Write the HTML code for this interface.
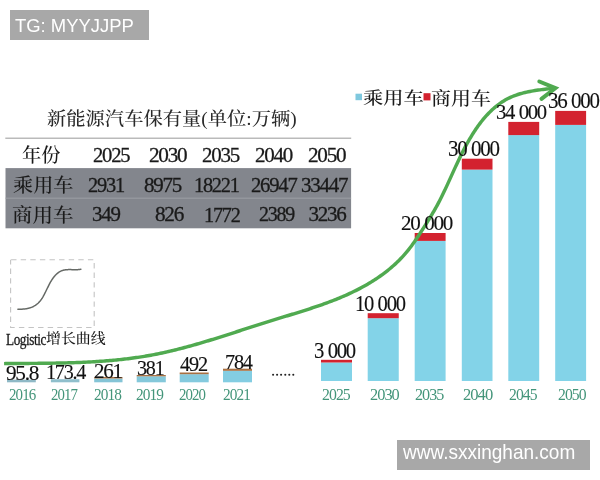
<!DOCTYPE html>
<html><head><meta charset="utf-8"><style>
html,body{margin:0;padding:0;background:#fff;}
#c{position:relative;width:600px;height:480px;overflow:hidden;background:#fff;}
.t{position:absolute;white-space:nowrap;line-height:1;transform-origin:0 0;}
.box{position:absolute;background:#a8a8a8;}
</style></head><body><div id="c">
<div class="box" style="left:10px;top:10px;width:139px;height:30px"></div>
<div class="box" style="left:397px;top:440px;width:193px;height:30px"></div>
<svg width="600" height="480" viewBox="0 0 600 480" style="position:absolute;left:0;top:0"><rect x="5.3" y="137.6" width="345.90" height="1.20" fill="#aaaaaa" /><rect x="5.5" y="168.1" width="345.60" height="60.20" fill="#83868d" /><rect x="5.5" y="197.7" width="345.60" height="0.90" fill="#a0a3a8" /><rect x="10.6" y="259.7" width="83.6" height="67.8" fill="none" stroke="#c4c4c4" stroke-width="1.1" stroke-dasharray="5.4,4.2" stroke-dashoffset="-0.5"/><path d="M17.90,309.30 L18.44,309.29 L18.98,309.29 L19.52,309.27 L20.06,309.26 L20.61,309.24 L21.16,309.22 L21.71,309.19 L22.26,309.16 L22.81,309.12 L23.36,309.07 L23.91,309.02 L24.46,308.97 L25.00,308.90 L25.55,308.83 L26.10,308.74 L26.64,308.65 L27.18,308.55 L27.72,308.44 L28.26,308.32 L28.79,308.19 L29.32,308.05 L29.85,307.90 L30.37,307.73 L30.89,307.55 L31.40,307.36 L31.91,307.16 L32.41,306.94 L32.91,306.71 L33.40,306.46 L33.88,306.20 L34.36,305.93 L34.83,305.64 L35.30,305.34 L35.75,305.03 L36.20,304.71 L36.64,304.37 L37.07,304.03 L37.49,303.67 L37.91,303.31 L38.31,302.93 L38.70,302.54 L39.09,302.15 L39.46,301.74 L39.82,301.33 L40.17,300.91 L40.52,300.48 L40.85,300.05 L41.17,299.61 L41.49,299.16 L41.79,298.71 L42.09,298.25 L42.39,297.78 L42.67,297.31 L42.95,296.84 L43.22,296.36 L43.49,295.88 L43.76,295.40 L44.02,294.92 L44.27,294.43 L44.53,293.94 L44.77,293.45 L45.02,292.96 L45.27,292.47 L45.51,291.98 L45.75,291.48 L45.99,290.99 L46.23,290.50 L46.47,290.01 L46.71,289.51 L46.95,289.02 L47.19,288.53 L47.43,288.04 L47.67,287.55 L47.91,287.06 L48.15,286.57 L48.40,286.08 L48.64,285.59 L48.89,285.10 L49.14,284.62 L49.39,284.13 L49.65,283.65 L49.91,283.17 L50.17,282.69 L50.44,282.21 L50.71,281.74 L50.98,281.26 L51.27,280.79 L51.55,280.33 L51.84,279.86 L52.14,279.40 L52.45,278.95 L52.76,278.50 L53.08,278.05 L53.40,277.61 L53.74,277.18 L54.08,276.75 L54.43,276.32 L54.79,275.90 L55.16,275.49 L55.54,275.09 L55.94,274.69 L56.34,274.30 L56.74,273.93 L57.16,273.56 L57.59,273.20 L58.03,272.86 L58.47,272.53 L58.93,272.22 L59.39,271.92 L59.86,271.64 L60.34,271.37 L60.83,271.13 L61.32,270.91 L61.82,270.70 L62.33,270.52 L62.85,270.36 L63.37,270.22 L63.90,270.09 L64.43,269.98 L64.97,269.89 L65.51,269.81 L66.06,269.75 L66.61,269.70 L67.16,269.66 L67.72,269.63 L68.28,269.61 L68.84,269.60 L69.40,269.60 L69.97,269.60 L70.53,269.61 L71.10,269.62 L71.66,269.63 L72.23,269.65 L72.80,269.66 L73.36,269.68 L73.92,269.69 L74.48,269.70 L75.04,269.71 L75.60,269.71 L76.15,269.70 L76.70,269.69 L77.24,269.67 L77.78,269.64 L78.31,269.60 L78.84,269.55 L79.37,269.48 L79.88,269.40 L80.40,269.31 L80.90,269.20" fill="none" stroke="#666a66" stroke-width="1.5" stroke-linecap="round" stroke-linejoin="round"/><rect x="7" y="379.7" width="28.80" height="2.60" fill="#8fb9c6" /><rect x="50.9" y="379.2" width="28.50" height="3.10" fill="#8fbfcc" /><rect x="94.2" y="378.5" width="28.30" height="3.80" fill="#84c4d6" /><rect x="94.2" y="377" width="28.30" height="1.50" fill="#a87042" /><rect x="136.7" y="376.3" width="29.10" height="6.00" fill="#84c8da" /><rect x="136.7" y="375" width="29.10" height="1.30" fill="#a87042" /><rect x="179.7" y="374.2" width="29.00" height="8.10" fill="#84cade" /><rect x="179.7" y="372.5" width="29.00" height="1.70" fill="#a87042" /><rect x="223" y="370.8" width="29.00" height="11.50" fill="#83cde2" /><rect x="223" y="368.7" width="29.00" height="2.10" fill="#a87042" /><rect x="321" y="362.5" width="31.00" height="18.50" fill="#83d3e8" /><rect x="321" y="359.8" width="31.00" height="2.70" fill="#d3222f" /><rect x="367.7" y="318.2" width="31.05" height="62.80" fill="#83d3e8" /><rect x="367.7" y="313.2" width="31.05" height="5.00" fill="#d3222f" /><rect x="414.7" y="240.9" width="30.90" height="140.10" fill="#83d3e8" /><rect x="414.7" y="233" width="30.90" height="7.90" fill="#d3222f" /><rect x="461.8" y="169.6" width="30.70" height="211.40" fill="#83d3e8" /><rect x="461.8" y="158.7" width="30.70" height="10.90" fill="#d3222f" /><rect x="508.3" y="135.1" width="30.90" height="245.90" fill="#83d3e8" /><rect x="508.3" y="121.9" width="30.90" height="13.20" fill="#d3222f" /><rect x="555.2" y="124.9" width="30.90" height="256.10" fill="#83d3e8" /><rect x="555.2" y="110.9" width="30.90" height="14.00" fill="#d3222f" /><circle cx="273.1" cy="374.8" r="1.05" fill="#222"/><circle cx="277.1" cy="374.8" r="1.05" fill="#222"/><circle cx="281.1" cy="374.8" r="1.05" fill="#222"/><circle cx="285.3" cy="374.8" r="1.05" fill="#222"/><circle cx="289.3" cy="374.8" r="1.05" fill="#222"/><circle cx="293.3" cy="374.8" r="1.05" fill="#222"/><rect x="355.5" y="93.7" width="6.50" height="6.50" fill="#7fc8de" /><rect x="423.5" y="93.2" width="7.00" height="7.20" fill="#d3222f" /><path d="M4.08,363.61 L5.70,363.59 L7.33,363.58 L8.96,363.56 L10.59,363.55 L12.22,363.53 L13.85,363.52 L15.49,363.51 L17.12,363.50 L18.76,363.48 L20.40,363.47 L22.04,363.46 L23.68,363.45 L25.33,363.44 L26.97,363.43 L28.62,363.42 L30.26,363.40 L31.91,363.39 L33.56,363.38 L35.21,363.37 L36.86,363.35 L38.52,363.34 L40.17,363.32 L41.82,363.30 L43.48,363.28 L45.14,363.27 L46.79,363.24 L48.45,363.22 L50.11,363.20 L51.77,363.17 L53.43,363.15 L55.09,363.12 L56.75,363.09 L58.41,363.06 L60.07,363.02 L61.73,362.99 L63.39,362.95 L65.05,362.91 L66.72,362.86 L68.38,362.82 L70.04,362.77 L71.71,362.72 L73.37,362.66 L75.03,362.60 L76.70,362.54 L78.36,362.48 L80.02,362.42 L81.69,362.35 L83.35,362.27 L85.01,362.20 L86.67,362.12 L88.34,362.03 L90.00,361.94 L91.66,361.85 L93.32,361.76 L94.98,361.66 L96.64,361.56 L98.30,361.45 L99.96,361.34 L101.62,361.22 L103.28,361.10 L104.94,360.97 L106.59,360.84 L108.25,360.71 L109.90,360.57 L111.56,360.42 L113.21,360.27 L114.86,360.12 L116.51,359.96 L118.16,359.79 L119.81,359.62 L121.46,359.44 L123.11,359.26 L124.75,359.07 L126.40,358.88 L128.04,358.68 L129.68,358.47 L131.32,358.26 L132.96,358.04 L134.60,357.81 L136.24,357.58 L137.87,357.34 L139.50,357.10 L141.13,356.85 L142.76,356.59 L144.39,356.33 L146.02,356.05 L147.64,355.77 L149.27,355.49 L150.89,355.20 L152.51,354.89 L154.12,354.59 L155.74,354.27 L157.35,353.95 L158.96,353.62 L160.57,353.29 L162.18,352.94 L163.79,352.59 L165.39,352.24 L167.00,351.88 L168.60,351.51 L170.20,351.14 L171.80,350.76 L173.40,350.38 L175.00,349.99 L176.59,349.59 L178.19,349.19 L179.78,348.78 L181.37,348.37 L182.96,347.96 L184.55,347.54 L186.14,347.11 L187.73,346.68 L189.32,346.25 L190.90,345.81 L192.49,345.36 L194.07,344.92 L195.65,344.47 L197.24,344.01 L198.82,343.55 L200.40,343.09 L201.98,342.63 L203.56,342.16 L205.14,341.68 L206.72,341.21 L208.30,340.73 L209.88,340.25 L211.45,339.77 L213.03,339.28 L214.61,338.79 L216.18,338.30 L217.76,337.81 L219.34,337.31 L220.91,336.82 L222.49,336.32 L224.06,335.82 L225.64,335.31 L227.22,334.81 L228.79,334.30 L230.37,333.80 L231.94,333.29 L233.52,332.78 L235.10,332.27 L236.67,331.76 L238.25,331.25 L239.83,330.74 L241.41,330.23 L242.98,329.72 L244.56,329.21 L246.14,328.70 L247.72,328.18 L249.30,327.67 L250.88,327.16 L252.46,326.65 L254.04,326.14 L255.63,325.63 L257.21,325.13 L258.80,324.62 L260.38,324.11 L261.97,323.61 L263.55,323.11 L265.14,322.60 L266.73,322.10 L268.32,321.61 L269.91,321.11 L271.50,320.62 L273.10,320.12 L274.69,319.63 L276.29,319.14 L277.88,318.65 L279.48,318.17 L281.07,317.68 L282.67,317.19 L284.27,316.71 L285.86,316.22 L287.46,315.74 L289.06,315.25 L290.65,314.76 L292.25,314.27 L293.84,313.78 L295.44,313.29 L297.03,312.80 L298.62,312.30 L300.22,311.81 L301.81,311.31 L303.39,310.81 L304.98,310.30 L306.57,309.80 L308.15,309.29 L309.73,308.77 L311.31,308.25 L312.89,307.73 L314.47,307.21 L316.04,306.68 L317.61,306.14 L319.18,305.60 L320.74,305.06 L322.30,304.51 L323.86,303.95 L325.42,303.39 L326.97,302.82 L328.52,302.25 L330.07,301.67 L331.61,301.08 L333.15,300.49 L334.69,299.89 L336.22,299.28 L337.74,298.66 L339.27,298.04 L340.78,297.41 L342.30,296.77 L343.81,296.12 L345.31,295.46 L346.81,294.80 L348.30,294.12 L349.79,293.44 L351.28,292.74 L352.76,292.04 L354.23,291.32 L355.70,290.60 L357.16,289.86 L358.61,289.12 L360.06,288.36 L361.51,287.59 L362.95,286.81 L364.38,286.02 L365.80,285.22 L367.22,284.40 L368.63,283.57 L370.03,282.73 L371.43,281.88 L372.82,281.01 L374.20,280.13 L375.58,279.23 L376.95,278.33 L378.31,277.40 L379.66,276.47 L381.00,275.52 L382.34,274.55 L383.67,273.57 L384.99,272.58 L386.29,271.57 L387.59,270.55 L388.88,269.51 L390.15,268.45 L391.42,267.39 L392.67,266.31 L393.91,265.21 L395.13,264.10 L396.35,262.97 L397.54,261.83 L398.73,260.68 L399.90,259.51 L401.05,258.32 L402.19,257.12 L403.31,255.91 L404.41,254.68 L405.49,253.43 L406.56,252.17 L407.61,250.90 L408.64,249.61 L409.65,248.31 L410.65,247.00 L411.64,245.67 L412.61,244.34 L413.57,242.99 L414.51,241.64 L415.45,240.28 L416.38,238.92 L417.30,237.55 L418.22,236.18 L419.13,234.81 L420.03,233.43 L420.93,232.05 L421.82,230.66 L422.71,229.28 L423.60,227.89 L424.48,226.50 L425.36,225.11 L426.24,223.71 L427.11,222.32 L427.98,220.92 L428.85,219.53 L429.72,218.12 L430.58,216.72 L431.43,215.32 L432.28,213.91 L433.12,212.49 L433.95,211.07 L434.77,209.65 L435.59,208.21 L436.39,206.78 L437.18,205.33 L437.96,203.88 L438.73,202.42 L439.49,200.96 L440.24,199.49 L440.99,198.02 L441.72,196.54 L442.45,195.06 L443.17,193.58 L443.89,192.10 L444.60,190.61 L445.30,189.12 L446.00,187.62 L446.70,186.13 L447.39,184.64 L448.08,183.14 L448.76,181.64 L449.44,180.14 L450.13,178.64 L450.81,177.14 L451.49,175.64 L452.17,174.14 L452.85,172.64 L453.53,171.14 L454.21,169.65 L454.90,168.15 L455.58,166.65 L456.27,165.16 L456.97,163.66 L457.67,162.17 L458.37,160.68 L459.08,159.19 L459.79,157.71 L460.51,156.22 L461.24,154.74 L461.98,153.26 L462.72,151.79 L463.47,150.32 L464.23,148.85 L465.00,147.39 L465.78,145.93 L466.57,144.47 L467.37,143.02 L468.18,141.57 L469.01,140.13 L469.85,138.70 L470.70,137.26 L471.56,135.84 L472.44,134.42 L473.33,133.01 L474.24,131.60 L475.16,130.20 L476.10,128.82 L477.06,127.44 L478.02,126.07 L479.01,124.72 L480.01,123.38 L481.03,122.06 L482.06,120.75 L483.11,119.46 L484.18,118.18 L485.27,116.92 L486.37,115.69 L487.49,114.47 L488.63,113.27 L489.78,112.10 L490.96,110.95 L492.15,109.82 L493.36,108.72 L494.59,107.64 L495.84,106.60 L497.11,105.58 L498.40,104.59 L499.71,103.63 L501.05,102.70 L502.40,101.80 L503.77,100.93 L505.16,100.10 L506.57,99.31 L508.01,98.55 L509.46,97.83 L510.94,97.14 L512.44,96.49 L513.96,95.88 L515.50,95.31 L517.05,94.76 L518.62,94.25 L520.21,93.77 L521.81,93.31 L523.42,92.89 L525.04,92.49 L526.67,92.12 L528.31,91.77 L529.96,91.44 L531.61,91.13 L533.26,90.84 L534.92,90.57 L536.58,90.32 L538.24,90.08 L539.90,89.85 L541.56,89.64 L543.21,89.43 L544.86,89.24 L546.51,89.06 L548.14,88.88 L549.77,88.71 L551.38,88.54 L552.99,88.37" fill="none" stroke="#50aa50" stroke-width="3.45" stroke-linecap="butt" stroke-linejoin="round"/><path d="M539.3,81.5 L555.4,88.1 L541.5,98.8" fill="none" stroke="#50aa50" stroke-width="4.0" stroke-linejoin="miter" stroke-linecap="round"/></svg>
<div class="t" style="left:14.63px;top:17.29px;font-size:18.03px;font-family:'Liberation Sans', Arial, sans-serif;color:#fff;transform:scaleX(1.0240);">TG: MYYJJPP</div>
<div class="t" style="left:402.50px;top:442.49px;font-size:20.34px;font-family:'Liberation Sans', Arial, sans-serif;color:#fff;transform:scaleX(0.9356);">www.sxxinghan.com</div>
<div class="t" style="left:46.80px;top:110.36px;font-size:18.68px;font-family:'Liberation Serif', 'Noto Serif CJK SC', serif;color:#2a2a2a;transform:scaleX(1.0329);font-weight:500;">新能源汽车保有量(单位:万辆)</div>
<div class="t" style="left:21.83px;top:145.59px;font-size:19.58px;font-family:'Liberation Serif', 'Noto Serif CJK SC', serif;color:#1a1a1a;transform:scaleX(0.9846);font-weight:500;">年份</div>
<div class="t" style="left:93.46px;top:144.67px;font-size:21.03px;font-family:'Liberation Serif', 'Noto Serif CJK SC', serif;color:#1a1a1a;transform:scaleX(0.9827);letter-spacing:-0.06em;-webkit-text-stroke:0.3px currentColor;">2025</div>
<div class="t" style="left:148.96px;top:145.10px;font-size:20.87px;font-family:'Liberation Serif', 'Noto Serif CJK SC', serif;color:#1a1a1a;transform:scaleX(1.0174);letter-spacing:-0.06em;-webkit-text-stroke:0.3px currentColor;">2030</div>
<div class="t" style="left:202.31px;top:144.98px;font-size:20.59px;font-family:'Liberation Serif', 'Noto Serif CJK SC', serif;color:#1a1a1a;transform:scaleX(1.0181);letter-spacing:-0.06em;-webkit-text-stroke:0.3px currentColor;">2035</div>
<div class="t" style="left:255.04px;top:145.13px;font-size:20.83px;font-family:'Liberation Serif', 'Noto Serif CJK SC', serif;color:#1a1a1a;transform:scaleX(1.0090);letter-spacing:-0.06em;-webkit-text-stroke:0.3px currentColor;">2040</div>
<div class="t" style="left:308.01px;top:144.67px;font-size:21.03px;font-family:'Liberation Serif', 'Noto Serif CJK SC', serif;color:#1a1a1a;transform:scaleX(1.0085);letter-spacing:-0.06em;-webkit-text-stroke:0.3px currentColor;">2050</div>
<div class="t" style="left:12.69px;top:176.33px;font-size:19.20px;font-family:'Liberation Serif', 'Noto Serif CJK SC', serif;color:#1a1a1a;transform:scaleX(1.0501);font-weight:500;">乘用车</div>
<div class="t" style="left:87.76px;top:175.44px;font-size:21.18px;font-family:'Liberation Serif', 'Noto Serif CJK SC', serif;color:#1a1a1a;transform:scaleX(0.9628);letter-spacing:-0.06em;-webkit-text-stroke:0.3px currentColor;">2931</div>
<div class="t" style="left:144.44px;top:174.99px;font-size:20.59px;font-family:'Liberation Serif', 'Noto Serif CJK SC', serif;color:#1a1a1a;transform:scaleX(1.0205);letter-spacing:-0.06em;-webkit-text-stroke:0.3px currentColor;">8975</div>
<div class="t" style="left:193.70px;top:174.84px;font-size:21.07px;font-family:'Liberation Serif', 'Noto Serif CJK SC', serif;color:#1a1a1a;transform:scaleX(0.9641);letter-spacing:-0.06em;-webkit-text-stroke:0.3px currentColor;">18221</div>
<div class="t" style="left:251.17px;top:174.50px;font-size:21.18px;font-family:'Liberation Serif', 'Noto Serif CJK SC', serif;color:#1a1a1a;transform:scaleX(0.9768);letter-spacing:-0.06em;-webkit-text-stroke:0.3px currentColor;">26947</div>
<div class="t" style="left:301.07px;top:175.19px;font-size:21.19px;font-family:'Liberation Serif', 'Noto Serif CJK SC', serif;color:#1a1a1a;transform:scaleX(0.9920);letter-spacing:-0.06em;-webkit-text-stroke:0.3px currentColor;">33447</div>
<div class="t" style="left:11.63px;top:205.88px;font-size:19.70px;font-family:'Liberation Serif', 'Noto Serif CJK SC', serif;color:#1a1a1a;transform:scaleX(1.0429);font-weight:500;">商用车</div>
<div class="t" style="left:91.87px;top:204.22px;font-size:21.10px;font-family:'Liberation Serif', 'Noto Serif CJK SC', serif;color:#1a1a1a;transform:scaleX(0.9909);letter-spacing:-0.06em;-webkit-text-stroke:0.3px currentColor;">349</div>
<div class="t" style="left:155.16px;top:203.73px;font-size:21.03px;font-family:'Liberation Serif', 'Noto Serif CJK SC', serif;color:#1a1a1a;transform:scaleX(1.0087);letter-spacing:-0.06em;-webkit-text-stroke:0.3px currentColor;">826</div>
<div class="t" style="left:203.92px;top:204.85px;font-size:20.75px;font-family:'Liberation Serif', 'Noto Serif CJK SC', serif;color:#1a1a1a;transform:scaleX(0.9727);letter-spacing:-0.06em;-webkit-text-stroke:0.3px currentColor;">1772</div>
<div class="t" style="left:259.20px;top:203.73px;font-size:21.03px;font-family:'Liberation Serif', 'Noto Serif CJK SC', serif;color:#1a1a1a;transform:scaleX(0.9483);letter-spacing:-0.06em;-webkit-text-stroke:0.3px currentColor;">2389</div>
<div class="t" style="left:308.46px;top:203.73px;font-size:21.03px;font-family:'Liberation Serif', 'Noto Serif CJK SC', serif;color:#1a1a1a;transform:scaleX(1.0000);letter-spacing:-0.06em;-webkit-text-stroke:0.3px currentColor;">3236</div>
<div class="t" style="left:6.33px;top:363.10px;font-size:20.59px;font-family:'Liberation Serif', 'Noto Serif CJK SC', serif;color:#111;transform:scaleX(1.0329);letter-spacing:-0.06em;-webkit-text-stroke:0.15px currentColor;">95.8</div>
<div class="t" style="left:45.64px;top:362.31px;font-size:21.68px;font-family:'Liberation Serif', 'Noto Serif CJK SC', serif;color:#111;transform:scaleX(0.9272);letter-spacing:-0.06em;-webkit-text-stroke:0.15px currentColor;">173.4</div>
<div class="t" style="left:93.85px;top:360.65px;font-size:20.93px;font-family:'Liberation Serif', 'Noto Serif CJK SC', serif;color:#111;transform:scaleX(1.0053);letter-spacing:-0.06em;-webkit-text-stroke:0.15px currentColor;">261</div>
<div class="t" style="left:137.06px;top:358.05px;font-size:20.88px;font-family:'Liberation Serif', 'Noto Serif CJK SC', serif;color:#111;transform:scaleX(0.9627);letter-spacing:-0.06em;-webkit-text-stroke:0.15px currentColor;">381</div>
<div class="t" style="left:180.49px;top:353.87px;font-size:21.22px;font-family:'Liberation Serif', 'Noto Serif CJK SC', serif;color:#111;transform:scaleX(0.9575);letter-spacing:-0.06em;-webkit-text-stroke:0.15px currentColor;">492</div>
<div class="t" style="left:224.99px;top:352.13px;font-size:21.79px;font-family:'Liberation Serif', 'Noto Serif CJK SC', serif;color:#111;transform:scaleX(0.9295);letter-spacing:-0.06em;-webkit-text-stroke:0.15px currentColor;">784</div>
<div class="t" style="left:314.05px;top:340.26px;font-size:22.11px;font-family:'Liberation Serif', 'Noto Serif CJK SC', serif;color:#111;transform:scaleX(0.9350);letter-spacing:-0.06em;-webkit-text-stroke:0.15px currentColor;">3<span style="display:inline-block;width:0.22em"></span>000</div>
<div class="t" style="left:354.86px;top:292.75px;font-size:22.06px;font-family:'Liberation Serif', 'Noto Serif CJK SC', serif;color:#111;transform:scaleX(0.9316);letter-spacing:-0.06em;-webkit-text-stroke:0.15px currentColor;">10<span style="display:inline-block;width:0.22em"></span>000</div>
<div class="t" style="left:401.02px;top:212.92px;font-size:20.99px;font-family:'Liberation Serif', 'Noto Serif CJK SC', serif;color:#111;transform:scaleX(1.0043);letter-spacing:-0.06em;-webkit-text-stroke:0.15px currentColor;">20<span style="display:inline-block;width:0.22em"></span>000</div>
<div class="t" style="left:447.59px;top:137.78px;font-size:22.73px;font-family:'Liberation Serif', 'Noto Serif CJK SC', serif;color:#111;transform:scaleX(0.9235);letter-spacing:-0.06em;-webkit-text-stroke:0.15px currentColor;">30<span style="display:inline-block;width:0.22em"></span>000</div>
<div class="t" style="left:495.60px;top:102.35px;font-size:21.37px;font-family:'Liberation Serif', 'Noto Serif CJK SC', serif;color:#111;transform:scaleX(0.9664);letter-spacing:-0.06em;-webkit-text-stroke:0.15px currentColor;">34<span style="display:inline-block;width:0.22em"></span>000</div>
<div class="t" style="left:548.04px;top:89.65px;font-size:22.89px;font-family:'Liberation Serif', 'Noto Serif CJK SC', serif;color:#111;transform:scaleX(0.9164);letter-spacing:-0.06em;-webkit-text-stroke:0.15px currentColor;">36<span style="display:inline-block;width:0.22em"></span>000</div>
<div class="t" style="left:9.09px;top:386.22px;font-size:17.07px;font-family:'Liberation Serif', 'Noto Serif CJK SC', serif;color:#44957a;transform:scaleX(0.8773);letter-spacing:-0.06em;">2016</div>
<div class="t" style="left:50.60px;top:386.22px;font-size:17.07px;font-family:'Liberation Serif', 'Noto Serif CJK SC', serif;color:#44957a;transform:scaleX(0.8670);letter-spacing:-0.06em;">2017</div>
<div class="t" style="left:93.63px;top:386.22px;font-size:17.07px;font-family:'Liberation Serif', 'Noto Serif CJK SC', serif;color:#44957a;transform:scaleX(0.8974);letter-spacing:-0.06em;">2018</div>
<div class="t" style="left:136.20px;top:385.51px;font-size:17.70px;font-family:'Liberation Serif', 'Noto Serif CJK SC', serif;color:#44957a;transform:scaleX(0.8680);letter-spacing:-0.06em;">2019</div>
<div class="t" style="left:179.47px;top:385.87px;font-size:17.39px;font-family:'Liberation Serif', 'Noto Serif CJK SC', serif;color:#44957a;transform:scaleX(0.8545);letter-spacing:-0.06em;">2020</div>
<div class="t" style="left:223.19px;top:385.87px;font-size:17.39px;font-family:'Liberation Serif', 'Noto Serif CJK SC', serif;color:#44957a;transform:scaleX(0.8801);letter-spacing:-0.06em;">2021</div>
<div class="t" style="left:322.08px;top:385.51px;font-size:17.70px;font-family:'Liberation Serif', 'Noto Serif CJK SC', serif;color:#44957a;transform:scaleX(0.8927);letter-spacing:-0.06em;">2025</div>
<div class="t" style="left:370.20px;top:385.87px;font-size:17.39px;font-family:'Liberation Serif', 'Noto Serif CJK SC', serif;color:#44957a;transform:scaleX(0.9409);letter-spacing:-0.06em;">2030</div>
<div class="t" style="left:414.94px;top:386.22px;font-size:17.07px;font-family:'Liberation Serif', 'Noto Serif CJK SC', serif;color:#44957a;transform:scaleX(0.9462);letter-spacing:-0.06em;">2035</div>
<div class="t" style="left:462.89px;top:386.22px;font-size:17.07px;font-family:'Liberation Serif', 'Noto Serif CJK SC', serif;color:#44957a;transform:scaleX(0.9716);letter-spacing:-0.06em;">2040</div>
<div class="t" style="left:509.00px;top:386.22px;font-size:17.07px;font-family:'Liberation Serif', 'Noto Serif CJK SC', serif;color:#44957a;transform:scaleX(0.9179);letter-spacing:-0.06em;">2045</div>
<div class="t" style="left:558.05px;top:385.51px;font-size:17.70px;font-family:'Liberation Serif', 'Noto Serif CJK SC', serif;color:#44957a;transform:scaleX(0.8868);letter-spacing:-0.06em;">2050</div>
<div class="t" style="left:362.83px;top:89.57px;font-size:17.60px;font-family:'Liberation Serif', 'Noto Serif CJK SC', serif;color:#1a1a1a;transform:scaleX(1.1530);font-weight:500;">乘用车</div>
<div class="t" style="left:430.74px;top:89.84px;font-size:18.10px;font-family:'Liberation Serif', 'Noto Serif CJK SC', serif;color:#1a1a1a;transform:scaleX(1.1023);font-weight:500;">商用车</div>
<div class="t" style="left:6.20px;top:332.04px;font-size:16.12px;font-family:'Liberation Serif', 'Noto Serif CJK SC', serif;color:#1a1a1a;transform:scaleX(0.8191);-webkit-text-stroke:0.3px currentColor;letter-spacing:-0.03em;">Logistic</div>
<div class="t" style="left:46.25px;top:331.78px;font-size:13.37px;font-family:'Liberation Serif', 'Noto Serif CJK SC', serif;color:#1a1a1a;transform:scaleX(1.1138);font-weight:500;">增长曲线</div>
</div></body></html>
